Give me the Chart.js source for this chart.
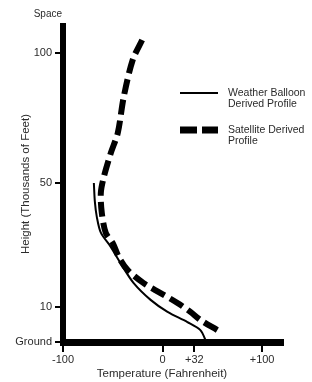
<!DOCTYPE html>
<html>
<head>
<meta charset="utf-8">
<script src="https://cdn.jsdelivr.net/npm/chart.js@4.4.1/dist/chart.umd.min.js"></script>
<style>
  html, body { margin: 0; padding: 0; background: #fff; }
  #wrap { width: 312px; height: 382px; }
</style>
</head>
<body>
<div id="wrap"><canvas id="profileChart"></canvas></div>
<script>
// Temperature in deg F, height in thousands of feet
const balloonTemp = [44, 38, 25, 5, -12, -29, -41, -52, -62, -66, -68, -69];
const balloonHeight = [0, 3.4, 5.7, 8.6, 12.3, 17.7, 23.5, 29.4, 34, 39, 44, 50];

const satelliteTemp = [55, 38, 28, 15, -2, -19, -35, -44, -50, -57, -61, -62, -59, -52, -45, -39, -30, -20];
const satelliteHeight = [3.4, 6.3, 8.6, 11.3, 14.5, 17.7, 21.9, 26.1, 30.6, 33.9, 40.3, 46.8, 52.3, 61.5, 69.2, 83.1, 97.3, 105.4];

const tempTicks = [-100, 0, 32, 100];
const tempTickLabels = ['-100', '0', '+32', '+100'];
const heightTicks = [0, 10, 50, 100];
const heightTickLabels = ['Ground', '10', '50', '100'];
// the original height axis is not evenly spaced
const heightSpacing = [0, 35, 159, 289];

const FONT = "'Liberation Sans', Arial, sans-serif";
const INK = '#2b2b2b';

function warp(h) {
    for (let i = 1; i < heightTicks.length; i++) {
        if (h <= heightTicks[i] || i === heightTicks.length - 1) {
            const a = heightTicks[i - 1], b = heightTicks[i];
            const pa = heightSpacing[i - 1], pb = heightSpacing[i];
            return pa + (h - a) * (pb - pa) / (b - a);
        }
    }
}

const toPoints = (temps, heights) => temps.map((t, i) => ({ x: t, y: warp(heights[i]) }));

const extras = {
    id: 'extras',
    afterDraw(chart) {
        const ctx = chart.ctx;
        ctx.save();
        ctx.fillStyle = INK;
        ctx.strokeStyle = '#000';
        ctx.font = '10.5px ' + FONT;
        ctx.textBaseline = 'middle';

        // legend
        ctx.lineWidth = 2;
        ctx.beginPath();
        ctx.moveTo(180, 93);
        ctx.lineTo(218, 93);
        ctx.stroke();
        ctx.lineWidth = 7;
        ctx.beginPath();
        ctx.moveTo(180, 130);
        ctx.lineTo(197, 130);
        ctx.moveTo(202, 130);
        ctx.lineTo(218, 130);
        ctx.stroke();
        ctx.textAlign = 'left';
        ctx.fillText('Weather Balloon', 228, 93);
        ctx.fillText('Derived Profile', 228, 104);
        ctx.fillText('Satellite Derived', 228, 130);
        ctx.fillText('Profile', 228, 141);

        // top of height axis
        ctx.font = '10px ' + FONT;
        ctx.textAlign = 'right';
        ctx.fillText('Space', 62, 14);

        // x axis title
        ctx.font = '11.5px ' + FONT;
        ctx.textAlign = 'center';
        ctx.fillText('Temperature (Fahrenheit)', 162, 374);
        ctx.restore();
    }
};

new Chart(document.getElementById('profileChart'), {
    type: 'line',
    data: {
        datasets: [
            {
                label: 'Weather Balloon Derived Profile',
                data: toPoints(balloonTemp, balloonHeight),
                borderColor: '#000',
                borderWidth: 2,
                pointRadius: 0,
                tension: 0.3,
                fill: false
            },
            {
                label: 'Satellite Derived Profile',
                data: toPoints(satelliteTemp, satelliteHeight),
                borderColor: '#000',
                borderWidth: 6,
                borderDash: [15, 6],
                pointRadius: 0,
                tension: 0.3,
                fill: false
            }
        ]
    },
    options: {
        responsive: true,
        maintainAspectRatio: false,
        animation: false,
        layout: { padding: { top: 26, right: 29, left: 0, bottom: 0 } },
        plugins: {
            legend: { display: false },
            tooltip: { enabled: false }
        },
        scales: {
            x: {
                type: 'linear',
                min: -100,
                max: 121,
                afterBuildTicks: (scale) => {
                    scale.ticks = tempTicks.map(v => ({ value: v }));
                },
                afterFit: (scale) => { scale.height = 40; },
                ticks: {
                    autoSkip: false,
                    maxRotation: 0,
                    padding: 1,
                    color: INK,
                    font: { family: FONT, size: 11 },
                    callback: (v, i) => tempTickLabels[i]
                },
                grid: { drawOnChartArea: false, drawTicks: true, tickLength: 10, color: '#000', lineWidth: 2 },
                border: { display: true, color: '#000', width: 7 }
            },
            y: {
                type: 'linear',
                min: 0,
                max: 316,
                afterBuildTicks: (scale) => {
                    scale.ticks = heightTicks.map(h => ({ value: warp(h) }));
                },
                afterFit: (scale) => { scale.width = 63; },
                ticks: {
                    autoSkip: false,
                    padding: 3,
                    color: INK,
                    font: { family: FONT, size: 11 },
                    callback: (v, i) => heightTickLabels[i]
                },
                title: {
                    display: true,
                    text: 'Height (Thousands of Feet)',
                    color: INK,
                    font: { family: FONT, size: 11.5 },
                    padding: { top: 19, bottom: 0 }
                },
                grid: { drawOnChartArea: false, drawTicks: true, tickLength: 8, color: '#000', lineWidth: 2 },
                border: { display: true, color: '#000', width: 6 }
            }
        }
    },
    plugins: [extras]
});
</script>
</body>
</html>
